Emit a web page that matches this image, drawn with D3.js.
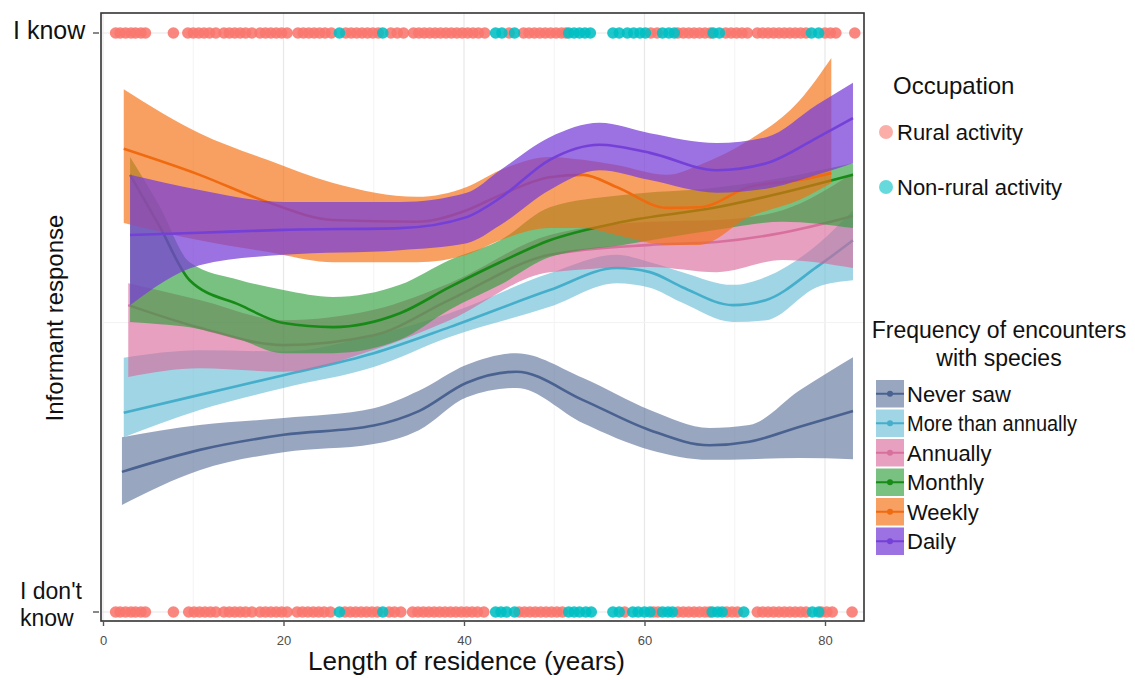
<!DOCTYPE html>
<html>
<head>
<meta charset="utf-8">
<script src="https://cdn.jsdelivr.net/npm/d3@7"></script>
<style>
  body { margin: 0; background: #fff; }
  text { font-family: "Liberation Sans", Arial, Helvetica, sans-serif; }
</style>
</head>
<body>
<svg id="chart" width="1135" height="680"></svg>
<script>
// ---- data ----
const xTicks = [0, 20, 40, 60, 80];
const xMinor = [10, 30, 50, 70];
const yLabels = ["I don't know", "I know"];

const occupations = ["Rural activity", "Non-rural activity"];
const occupationColors = ["#F8766D", "#00BFC4"];

// residence length (years) of the informants, by answer and occupation
const knowRural = [1.4, 1.9, 2.5, 3.1, 3.6, 4.2, 4.7, 7.8, 9.4, 10.0, 10.6, 11.2, 11.8, 12.5,
  13.4, 14.0, 14.6, 15.2, 15.8, 16.5, 17.4, 18.0, 18.6, 19.2, 19.8, 20.4, 21.6, 22.2, 22.8,
  23.4, 24.0, 24.6, 25.3, 26.9, 27.5, 28.1, 28.7, 29.3, 29.9, 30.5, 31.9, 32.6, 33.3, 34.4,
  35.0, 35.6, 36.2, 36.8, 37.4, 38.0, 38.6, 39.2, 39.8, 40.4, 41.0, 41.6, 42.3, 45.0, 46.6,
  47.2, 47.8, 48.4, 49.0, 49.6, 50.2, 50.8, 51.3, 60.7, 61.4, 63.7, 64.3, 64.9, 65.5, 66.1,
  66.7, 67.3, 69.0, 69.6, 70.2, 70.8, 71.4, 72.5, 73.1, 73.7, 74.3, 74.9, 75.5, 76.1, 76.7,
  77.3, 77.9, 80.0, 80.6, 81.2, 83.3];
const knowNonRural = [26.2, 31.0, 43.5, 44.2, 45.6, 51.6, 52.2, 52.8, 53.4, 54.0, 56.5, 57.2,
  58.1, 58.8, 59.5, 60.1, 62.0, 62.7, 63.3, 67.6, 68.3, 78.5, 79.3];
const dontKnowRural = [1.4, 1.9, 2.5, 3.1, 3.6, 4.2, 4.7, 7.8, 9.5, 10.1, 10.7, 11.3, 11.9,
  12.5, 13.4, 14.0, 14.6, 15.2, 15.8, 16.5, 17.4, 18.0, 18.6, 19.2, 19.8, 20.4, 21.5, 22.1,
  22.7, 23.3, 23.9, 24.5, 25.2, 26.8, 27.4, 28.0, 28.6, 29.2, 29.8, 30.4, 31.7, 32.3, 33.0,
  34.3, 34.9, 35.5, 36.1, 36.7, 37.3, 37.9, 38.5, 39.1, 39.7, 40.3, 40.9, 41.5, 42.2, 46.1,
  46.7, 47.3, 47.9, 48.5, 49.1, 49.7, 50.3, 50.9, 57.8, 61.0, 61.5, 63.7, 64.3, 64.9, 65.5,
  66.1, 66.7, 67.2, 69.1, 69.7, 70.3, 72.5, 73.1, 73.7, 74.3, 74.9, 75.5, 76.1, 76.7, 77.3,
  77.9, 79.6, 80.2, 80.8, 83.0];
const dontKnowNonRural = [26.2, 31.0, 43.5, 44.1, 44.7, 45.6, 51.6, 52.2, 52.8, 53.5, 54.1,
  56.5, 57.2, 58.7, 59.3, 60.0, 60.6, 62.0, 62.6, 63.1, 67.5, 68.1, 68.6, 71.0, 78.6, 79.3];

const frequencies = ["Never saw", "More than annually", "Annually", "Monthly", "Weekly", "Daily"];
const fillColors = ["#5A7099", "#66BBD5", "#D9669A", "#2E9E3A", "#F56F10", "#7A3FD6"];
const lineColors = ["#4A6290", "#45AECB", "#D8709E", "#178A17", "#F06A10", "#7440D8"];
const fillOpacity = [0.62, 0.62, 0.62, 0.64, 0.66, 0.74];

// smooth fits: [years, fit, lower, upper]
const neverSaw = [
  [2.1, 0.242, 0.185, 0.302], [10.7, 0.280, 0.245, 0.323], [20, 0.306, 0.276, 0.335],
  [30, 0.322, 0.290, 0.352], [35, 0.347, 0.314, 0.382], [40.3, 0.396, 0.371, 0.427],
  [45.8, 0.415, 0.387, 0.447], [53.2, 0.366, 0.326, 0.404], [60.6, 0.314, 0.280, 0.349],
  [67.2, 0.288, 0.263, 0.318], [71.6, 0.294, 0.264, 0.323], [77.2, 0.320, 0.266, 0.383],
  [83.1, 0.347, 0.264, 0.440]];
const moreThanAnnually = [
  [2.3, 0.344, 0.302, 0.439], [10.7, 0.375, 0.349, 0.452], [20, 0.409, 0.387, 0.450],
  [30, 0.447, 0.423, 0.478], [38.4, 0.492, 0.475, 0.516], [49.5, 0.556, 0.527, 0.585],
  [56.9, 0.594, 0.568, 0.617], [60.6, 0.587, 0.560, 0.604], [64.2, 0.561, 0.534, 0.587],
  [69.8, 0.530, 0.501, 0.565], [73.5, 0.539, 0.504, 0.579], [79.1, 0.596, 0.561, 0.634],
  [83.1, 0.642, 0.573, 0.694]];
const annually = [
  [2.8, 0.530, 0.406, 0.568], [10.7, 0.491, 0.421, 0.539], [20, 0.461, 0.415, 0.504],
  [30, 0.478, 0.453, 0.522], [38.4, 0.539, 0.504, 0.568], [49.5, 0.617, 0.587, 0.651],
  [60.6, 0.634, 0.596, 0.674], [68, 0.639, 0.587, 0.677], [75.3, 0.655, 0.608, 0.694],
  [83.1, 0.684, 0.594, 0.758]];
const monthly = [
  [3.0, 0.755, 0.501, 0.786], [6.3, 0.665, 0.497, 0.700], [9.6, 0.573, 0.492, 0.604],
  [15.2, 0.530, 0.470, 0.573],
  [20, 0.499, 0.447, 0.556], [25.5, 0.492, 0.447, 0.544], [32.9, 0.516, 0.470, 0.565],
  [38.4, 0.561, 0.522, 0.608], [44, 0.604, 0.565, 0.642], [49.5, 0.642, 0.613, 0.699],
  [57.6, 0.674, 0.634, 0.720], [68, 0.699, 0.660, 0.733], [75.3, 0.724, 0.674, 0.750],
  [83.1, 0.755, 0.663, 0.775]];
const weekly = [
  [2.3, 0.800, 0.672, 0.903], [10.7, 0.755, 0.642, 0.827], [18.2, 0.708, 0.622, 0.781],
  [25.5, 0.677, 0.604, 0.741], [34.8, 0.674, 0.604, 0.717], [40.3, 0.694, 0.617, 0.734],
  [44, 0.720, 0.642, 0.763], [49.5, 0.751, 0.663, 0.786], [53.2, 0.755, 0.663, 0.781],
  [56.9, 0.734, 0.651, 0.772], [62.5, 0.698, 0.634, 0.755], [66.1, 0.699, 0.634, 0.772],
  [71.6, 0.734, 0.682, 0.815], [77.2, 0.746, 0.712, 0.884], [80.7, 0.758, 0.741, 0.957]];
const daily = [
  [3.0, 0.651, 0.530, 0.755], [10.7, 0.655, 0.599, 0.729], [20, 0.660, 0.617, 0.708],
  [32.9, 0.663, 0.625, 0.708], [40.3, 0.682, 0.637, 0.724], [44, 0.715, 0.668, 0.763],
  [49.5, 0.781, 0.729, 0.820], [55, 0.807, 0.763, 0.845], [60.6, 0.793, 0.746, 0.827],
  [68, 0.763, 0.724, 0.810], [73.5, 0.775, 0.731, 0.820], [79.1, 0.819, 0.755, 0.876],
  [83.1, 0.853, 0.775, 0.914]];
const fits = [neverSaw, moreThanAnnually, annually, monthly, weekly, daily];

// ---- layout ----
const svg = d3.select('#chart');
const panel = {left: 101, right: 864, top: 13, bottom: 621};

const x = d3.scaleLinear().domain([0, 80]).range([103, 825]);
const y = d3.scaleLinear().domain([0, 1]).range([612, 33]);

// grid
const grid = svg.append('g');
grid.selectAll('line.minor-x')
  .data(xMinor)
  .enter().append('line')
  .attr('x1', d => x(d)).attr('x2', d => x(d))
  .attr('y1', panel.top).attr('y2', panel.bottom)
  .attr('stroke', '#f3f3f3').attr('stroke-width', 1);
grid.selectAll('line.major-x')
  .data(xTicks)
  .enter().append('line')
  .attr('x1', d => x(d)).attr('x2', d => x(d))
  .attr('y1', panel.top).attr('y2', panel.bottom)
  .attr('stroke', '#e8e8e8').attr('stroke-width', 1.2);
grid.selectAll('line.y')
  .data([0, 0.5, 1])
  .enter().append('line')
  .attr('x1', panel.left).attr('x2', panel.right)
  .attr('y1', d => y(d)).attr('y2', d => y(d))
  .attr('stroke', d => d === 0.5 ? '#f3f3f3' : '#e8e8e8').attr('stroke-width', 1.2);

// smooths: ribbon then line, one group at a time (ggplot order)
const area = d3.area()
  .x(d => x(d[0]))
  .y0(d => y(d[2]))
  .y1(d => y(d[3]))
  .curve(d3.curveMonotoneX);
const line = d3.line()
  .x(d => x(d[0]))
  .y(d => y(d[1]))
  .curve(d3.curveMonotoneX);

const smooth = svg.append('g');
fits.forEach((rows, i) => {
  smooth.append('path')
    .attr('d', area(rows))
    .attr('fill', fillColors[i])
    .attr('fill-opacity', fillOpacity[i]);
  smooth.append('path')
    .attr('d', line(rows))
    .attr('fill', 'none')
    .attr('stroke', lineColors[i])
    .attr('stroke-width', 2.6);
});

// informant points
const points = svg.append('g');
const pointSets = [
  {vals: knowRural, v: 1, c: 0}, {vals: dontKnowRural, v: 0, c: 0},
  {vals: knowNonRural, v: 1, c: 1}, {vals: dontKnowNonRural, v: 0, c: 1}
];
pointSets.forEach(set => {
  points.selectAll(null)
    .data(set.vals)
    .enter().append('circle')
    .attr('cx', d => x(d))
    .attr('cy', y(set.v))
    .attr('r', 5.8)
    .attr('fill', occupationColors[set.c])
    .attr('fill-opacity', 0.88);
});

// panel border
svg.append('rect')
  .attr('x', panel.left).attr('y', panel.top)
  .attr('width', panel.right - panel.left)
  .attr('height', panel.bottom - panel.top)
  .attr('fill', 'none')
  .attr('stroke', '#333')
  .attr('stroke-width', 1.6);

// x axis
const xAxis = svg.append('g')
  .attr('transform', `translate(0,${panel.bottom})`)
  .call(d3.axisBottom(x).tickValues(xTicks).tickSize(5).tickPadding(10));
xAxis.select('.domain').remove();
xAxis.selectAll('.tick line').attr('stroke', '#555').attr('stroke-width', 1.4);
xAxis.selectAll('.tick text')
  .attr('fill', '#4d4d4d')
  .style('font-size', '13px')
  .style('font-family', '"Liberation Sans", Arial, sans-serif');

svg.append('text')
  .attr('x', 308).attr('y', 670)
  .attr('textLength', 317)
  .attr('lengthAdjust', 'spacingAndGlyphs')
  .style('font-size', '25px')
  .attr('fill', '#111')
  .text('Length of residence (years)');

// y axis labels
svg.selectAll('line.ytick')
  .data([0, 1])
  .enter().append('line')
  .attr('x1', 93).attr('x2', 99)
  .attr('y1', d => y(d)).attr('y2', d => y(d))
  .attr('stroke', '#555').attr('stroke-width', 1.4);

svg.append('text')
  .attr('x', 13).attr('y', 39)
  .style('font-size', '25px').attr('fill', '#111')
  .text(yLabels[1]);
const dk = yLabels[0].split(' ');
svg.append('text')
  .attr('x', 20).attr('y', 599)
  .style('font-size', '23px').attr('fill', '#111')
  .text(dk[0] + ' ' + dk[1]);
svg.append('text')
  .attr('x', 20).attr('y', 626)
  .style('font-size', '23px').attr('fill', '#111')
  .text(dk[2]);

svg.append('text')
  .attr('transform', 'translate(63,318) rotate(-90)')
  .attr('text-anchor', 'middle')
  .style('font-size', '24px').attr('fill', '#111')
  .text('Informant response');

// legend: occupation
const leg1 = svg.append('g');
leg1.append('text')
  .attr('x', 893).attr('y', 94)
  .style('font-size', '24px').attr('fill', '#111')
  .text('Occupation');
leg1.selectAll('g.item')
  .data(occupations)
  .enter().append('g')
  .each(function (d, i) {
    const g = d3.select(this);
    const cy = 132 + i * 55;
    g.append('circle')
      .attr('cx', 886).attr('cy', cy).attr('r', 7)
      .attr('fill', occupationColors[i]).attr('fill-opacity', 0.6);
    g.append('text')
      .attr('x', 897).attr('y', cy + 8)
      .style('font-size', '22px').attr('fill', '#111')
      .text(d);
  });

// legend: frequency of encounters
const leg2 = svg.append('g');
leg2.append('text')
  .attr('x', 999).attr('y', 338)
  .attr('text-anchor', 'middle')
  .style('font-size', '23px').attr('fill', '#111')
  .text('Frequency of encounters');
leg2.append('text')
  .attr('x', 999).attr('y', 366)
  .attr('text-anchor', 'middle')
  .style('font-size', '23px').attr('fill', '#111')
  .text('with species');

const keyH = 29.5;
leg2.selectAll('g.key')
  .data(frequencies)
  .enter().append('g')
  .each(function (d, i) {
    const g = d3.select(this);
    const top = 379 + i * keyH;
    g.append('rect')
      .attr('x', 876).attr('y', top + 1)
      .attr('width', 28).attr('height', keyH - 2)
      .attr('fill', fillColors[i]).attr('fill-opacity', fillOpacity[i]);
    g.append('line')
      .attr('x1', 876).attr('x2', 904)
      .attr('y1', top + keyH / 2).attr('y2', top + keyH / 2)
      .attr('stroke', lineColors[i]).attr('stroke-width', 2);
    g.append('circle')
      .attr('cx', 890).attr('cy', top + keyH / 2).attr('r', 3)
      .attr('fill', lineColors[i]);
    const label = g.append('text')
      .attr('x', 907).attr('y', top + keyH / 2 + 8)
      .style('font-size', '22px').attr('fill', '#111')
      .text(d);
    if (d === 'More than annually') {
      label.attr('textLength', 170).attr('lengthAdjust', 'spacingAndGlyphs');
    }
  });
</script>
</body>
</html>
